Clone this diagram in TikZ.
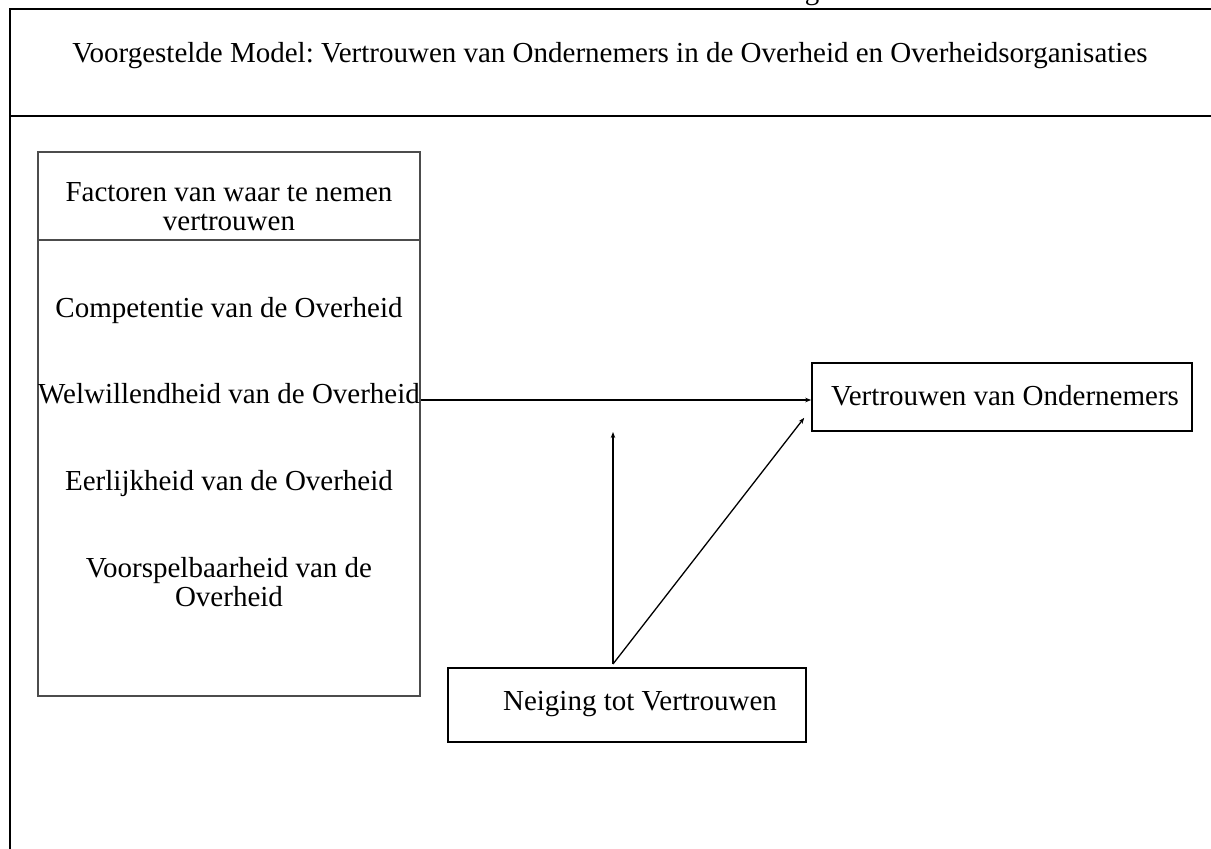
\documentclass[tikz,border=0pt]{standalone}
\usepackage{fontspec}
\setmainfont{Liberation Serif}
\usetikzlibrary{arrows.meta}
\frenchspacing

\begin{document}
\begin{tikzpicture}[x=1pt,y=-1pt,
	txt/.style={inner sep=0pt,font=\fontsize{29}{29}\selectfont},
	box/.style={draw,line width=1.6pt,inner sep=0pt},
	factorbox/.style={draw=black!70,line width=1.4pt,inner sep=0pt,minimum width=382pt},
	arr/.style={line width=1.3pt,-{Stealth[length=6pt,width=4.5pt]}}]

	\useasboundingbox (0,0) rectangle (1211,849);

	% frame
	\draw[line width=2pt] (1211,9) -- (10,9) -- (10,849);
	\draw[line width=2pt] (10,116) -- (1211,116);

	\node[txt,anchor=base] (cut) at (812,-1) {g};
	\node[txt,anchor=base] (title) at (610,62) {Voorgestelde Model: Vertrouwen van Ondernemers in de Overheid en Overheidsorganisaties};

	% factors
	\node[factorbox,minimum height=88pt] (factorhead) at (229,196) {};
	\node[factorbox,minimum height=456pt] (factors) at (229,468) {};
	\node[txt,align=center] (headtext) at (229,207) {Factoren van waar te nemen\\vertrouwen};

	\node[txt,anchor=base] (comp) at (229,317) {Competentie van de Overheid};
	\node[txt,anchor=base] (welw) at (229,403) {Welwillendheid van de Overheid};
	\node[txt,anchor=base] (eerl) at (229,490) {Eerlijkheid van de Overheid};
	\node[txt,align=center] (voor) at (229,582) {Voorspelbaarheid van de\\Overheid};

	% outcome and propensity
	\node[box,minimum width=380pt,minimum height=68pt] (target) at (1002,397) {};
	\node[txt,anchor=base] (targettext) at (1005,405) {Vertrouwen van Ondernemers};

	\node[box,minimum width=358pt,minimum height=74pt] (neiging) at (627,705) {};
	\node[txt,anchor=base] (neigingtext) at (640,710) {Neiging tot Vertrouwen};

	\coordinate (src) at (613,664);
	\coordinate (modtip) at (613,432);

	\draw[arr] (factors.east |- 0,400) -- (target.west |- 0,400);
	\draw[arr] (src) -- (modtip);
	\draw[arr] (src) -- ([xshift=-7pt,yshift=14pt]target.south west);

\end{tikzpicture}
\end{document}
